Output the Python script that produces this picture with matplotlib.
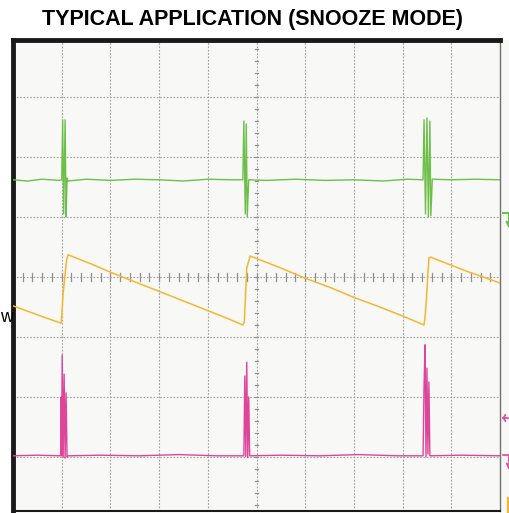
import matplotlib
matplotlib.use('Agg')
import matplotlib.pyplot as plt
import numpy as np

# Oscilloscope capture, values in screen divisions (x: 0..10, y: centre = 0)
green_x = [0.0, 0.3, 0.6, 0.95, 1.0, 1.02, 1.04, 1.07, 1.09, 1.11, 1.13, 1.5, 2.0, 2.5, 3.0,
           3.5, 4.0, 4.5, 4.72, 4.74, 4.77, 4.79, 4.81, 4.84, 5.2, 5.8, 6.4, 7.0, 7.6, 8.1,
           8.42, 8.44, 8.47, 8.50, 8.53, 8.56, 8.58, 8.61, 9.0, 9.5, 10.0]
green_y = [1.62, 1.60, 1.63, 1.61, 1.62, 2.62, 1.05, 2.62, 1.00, 1.65, 1.60, 1.63, 1.61, 1.63, 1.62,
           1.60, 1.63, 1.62, 1.62, 2.60, 1.05, 2.55, 1.00, 1.62, 1.61, 1.63, 1.61, 1.62, 1.60, 1.63,
           1.62, 2.62, 1.05, 2.65, 1.00, 2.60, 1.02, 1.63, 1.62, 1.63, 1.62]

yellow_x = [0.0, 0.3, 0.6, 0.99, 1.03, 1.10, 1.13, 1.6, 2.0, 2.5, 3.0, 3.5, 4.0, 4.4, 4.72,
            4.75, 4.80, 4.87, 5.5, 6.0, 6.5, 7.0, 7.5, 8.0, 8.44, 8.47, 8.54, 8.58, 9.3, 10.0]
yellow_y = [-0.48, -0.57, -0.66, -0.77, -0.27, 0.28, 0.37, 0.22, 0.08, -0.08, -0.24, -0.40, -0.56, -0.69, -0.80,
            -0.75, 0.15, 0.35, 0.15, -0.02, -0.17, -0.34, -0.49, -0.65, -0.80, -0.60, 0.32, 0.33, 0.10, -0.10]

pink_x = [0.0, 0.5, 0.98, 0.99, 1.00, 1.01, 1.03, 1.05, 1.07, 1.09, 1.11, 1.13, 1.8, 2.6, 3.4,
          4.2, 4.74, 4.76, 4.78, 4.80, 4.82, 4.84, 4.86, 5.5, 6.3, 7.1, 7.9, 8.42, 8.44, 8.46,
          8.48, 8.50, 8.52, 8.54, 8.56, 9.2, 10.0]
pink_y = [-2.98, -2.97, -2.98, -2.0, -2.98, -1.30, -3.00, -1.62, -3.02, -1.93, -3.00, -2.98, -2.97, -2.98, -2.96,
          -2.98, -2.98, -1.65, -2.99, -1.42, -3.01, -2.0, -2.98, -2.97, -2.98, -2.96, -2.98, -2.98, -1.85, -1.13,
          -3.0, -1.52, -2.95, -1.75, -2.98, -2.97, -2.98]

title = 'TYPICAL APPLICATION (SNOOZE MODE)'

W, H = 509, 513
fig = plt.figure(figsize=(W / 100, H / 100), dpi=100)
fig.patch.set_facecolor('white')

# light screen strip to the right of the graticule
fig.patches.append(plt.Rectangle((13 / W, 2 / H), (W - 13) / W, (511 - 40) / H,
                                 transform=fig.transFigure, facecolor='#f8f8f6',
                                 edgecolor='none', zorder=-5))

ax = fig.add_axes([13 / W, (H - 511) / H, 487 / W, (511 - 40) / H])
ax.set_facecolor('#f8f8f6')
ax.set_xlim(0, 10)
ax.set_ylim(-(511 - 277) / 60, (277 - 40) / 60)
ax.set_xticks([])
ax.set_yticks([])

for s in ['left', 'top']:
    ax.spines[s].set_linewidth(3.5)
    ax.spines[s].set_color('#1a1a1a')
ax.spines['bottom'].set_linewidth(1.5)
ax.spines['bottom'].set_color('#1a1a1a')
ax.spines['right'].set_linewidth(1.0)
ax.spines['right'].set_color('#707070')

grid_kw = dict(color='#a0a0a0', lw=0.8, linestyle=(0, (1.5, 1.5)), zorder=1)
for gx in range(1, 10):
    ax.axvline(gx, **grid_kw)
for gy in range(-3, 4):
    ax.axhline(gy, **grid_kw)

# minor ticks on the centre cross
for tx in np.arange(0.2, 10, 0.2):
    ax.plot([tx, tx], [-0.06, 0.06], color='#909090', lw=0.9, zorder=1)
for ty in np.arange(-3.8, 4.0, 0.2):
    ax.plot([4.97, 5.03], [ty, ty], color='#909090', lw=0.9, zorder=1)

ax.plot(green_x, green_y, color='#6cc04a', lw=1.0, zorder=3)
ax.plot(yellow_x, yellow_y, color='#f5b731', lw=1.1, zorder=3)
ax.plot(pink_x, pink_y, color='#e0449a', lw=1.0, zorder=3)

# channel markers at the right edge
ax.plot([10.07, 10.18, 10.18], [1.07, 1.07, 0.85], color='#6cc04a', lw=1.5, clip_on=False)
ax.plot([10.14, 10.18, 10.22], [0.92, 0.85, 0.92], color='#6cc04a', lw=1.5, clip_on=False)
ax.plot([10.07, 10.18], [-2.35, -2.35], color='#e0449a', lw=1.2, clip_on=False)
ax.plot([10.11, 10.07, 10.11], [-2.30, -2.35, -2.40], color='#e0449a', lw=1.2, clip_on=False)
ax.plot([10.07, 10.18, 10.18], [-2.97, -2.97, -3.18], color='#e0449a', lw=1.2, clip_on=False)
ax.plot([10.14, 10.18, 10.22], [-3.11, -3.18, -3.11], color='#e0449a', lw=1.2, clip_on=False)
ax.plot([10.18, 10.18], [-3.7, -3.95], color='#f5b731', lw=3, clip_on=False)

fig.text(253 / W, 1 - 20 / H, title, ha='center', va='center', fontsize=15.5,
         fontweight='bold', family='Liberation Sans')
fig.text(0.5 / W, 1 - 318 / H, 'w', ha='left', va='center', fontsize=13,
         family='Liberation Sans')

fig.savefig('out.png', dpi=100)
